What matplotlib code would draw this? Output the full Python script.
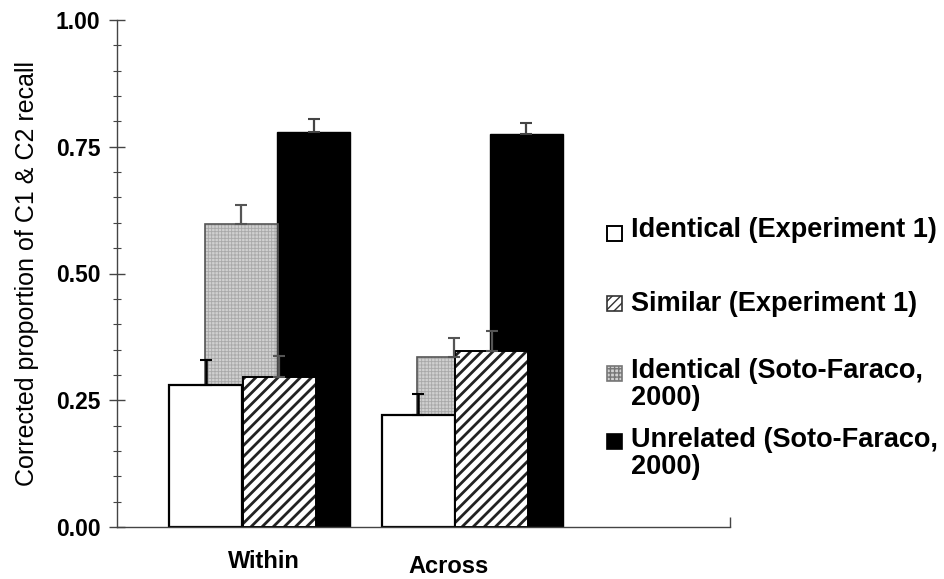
import numpy as np
import matplotlib
matplotlib.use("Agg")
import matplotlib.pyplot as plt
from matplotlib.patches import Rectangle
from matplotlib.ticker import MultipleLocator

# --- data ---
groups = ["Within", "Across"]

identical_exp1 = [0.280, 0.221]
identical_exp1_err = [0.050, 0.041]

similar_exp1 = [0.296, 0.347]
similar_exp1_err = [0.041, 0.040]

identical_sf = [0.598, 0.335]
identical_sf_err = [0.037, 0.038]

unrelated_sf = [0.779, 0.775]
unrelated_sf_err = [0.026, 0.022]

legend_labels = [
    "Identical (Experiment 1)",
    "Similar (Experiment 1)",
    "Identical (Soto-Faraco,\n2000)",
    "Unrelated (Soto-Faraco,\n2000)",
]

plt.rcParams["font.family"] = ["Liberation Sans", "DejaVu Sans"]

W, H = 944, 579


def px(x, y):
    """pixel (from top-left) -> figure fraction"""
    return x / W, 1 - y / H


fig = plt.figure(figsize=(W / 100, H / 100), dpi=100)
ax = fig.add_axes([117 / W, 1 - 527 / H, (730 - 117) / W, 507 / H])

x = np.arange(len(groups))
width = 0.343
gray_face = "#d0d0d0"


def up_err(err):
    err = np.asarray(err)
    return [np.zeros_like(err), err]


# back row: gray and black
with plt.rc_context({"hatch.linewidth": 0.6}):
    ax.bar(x - 0.087, identical_sf, width, color=gray_face, edgecolor="#a8a8a8",
           hatch="+++++", linewidth=0, zorder=1)
ax.bar(x - 0.087, identical_sf, width, fill=False, edgecolor="#555555",
       linewidth=1.2, zorder=1.1)
ax.bar(x + 0.255, unrelated_sf, width, color="black", edgecolor="black",
       linewidth=1, zorder=1)

# front row: white and hatched
ax.bar(x - 0.253, identical_exp1, width, color="white", edgecolor="black",
       linewidth=1.6, zorder=2)
with plt.rc_context({"hatch.linewidth": 2.0}):
    ax.bar(x + 0.093, similar_exp1, width, color="white", edgecolor="#222222",
           hatch="///", linewidth=0, zorder=2)
ax.bar(x + 0.093, similar_exp1, width, fill=False, edgecolor="black",
       linewidth=1.4, zorder=2.1)

# upward error bars
ax.errorbar(x - 0.253, identical_exp1, yerr=up_err(identical_exp1_err), fmt="none",
            ecolor="black", elinewidth=1.8, capsize=4, capthick=1.5, zorder=3)
ax.errorbar(x - 0.087, identical_sf, yerr=up_err(identical_sf_err), fmt="none",
            ecolor="#555555", elinewidth=1.6, capsize=4, capthick=1.5, zorder=3)
ax.errorbar(x + 0.093, similar_exp1, yerr=up_err(similar_exp1_err), fmt="none",
            ecolor="#555555", elinewidth=1.6, capsize=4, capthick=1.5, zorder=3)
ax.errorbar(x + 0.255, unrelated_sf, yerr=up_err(unrelated_sf_err), fmt="none",
            ecolor="#444444", elinewidth=1.6, capsize=4, capthick=1.5, zorder=3)

# axes
ax.set_xlim(-0.671, 2.214)
ax.set_ylim(0, 1)
for s in ["top", "right"]:
    ax.spines[s].set_visible(False)
ax.spines["left"].set_color("#444444")
ax.spines["bottom"].set_color("#444444")
ax.spines["left"].set_linewidth(1.0)
ax.spines["bottom"].set_linewidth(1.0)

ax.yaxis.set_major_locator(MultipleLocator(0.25))
ax.yaxis.set_minor_locator(MultipleLocator(0.05))
ax.set_yticklabels([f"{v:.2f}" for v in ax.get_yticks()], fontweight="bold", fontsize=16.5)
ax.tick_params(axis="y", which="major", direction="inout", length=12, width=1,
               color="#444444", pad=6)
ax.tick_params(axis="y", which="minor", direction="inout", length=6, width=0.8,
               color="#444444")

ax.set_xticks([ax.get_xlim()[1]])
ax.set_xticklabels([""])
ax.tick_params(axis="x", direction="in", length=7, width=1, color="#444444")

label_shift = [0.02, -0.11]
label_y = [-0.045, -0.056]
for xi, name, dx, ly in zip(x, groups, label_shift, label_y):
    ax.text(xi + dx, ly, name, transform=ax.get_xaxis_transform(), ha="center",
            va="top", fontsize=17, fontweight="bold")

ax.set_ylabel("Corrected proportion of C1 & C2 recall", fontsize=18, labelpad=12)

# legend drawn by hand so the squares sit on the first text line
legend_styles = [
    dict(facecolor="white", edgecolor="black", linewidth=1.4),
    dict(facecolor="white", edgecolor="#333333", hatch="////", linewidth=1.2),
    dict(facecolor=gray_face, edgecolor="#777777", hatch="++++", linewidth=1.2),
    dict(facecolor="black", edgecolor="black", linewidth=1.2),
]
box_centers = [233, 303, 373, 441]
text_tops = [217, 291, 358, 427]
box = 15
for lab, style, yc, yt in zip(legend_labels, legend_styles, box_centers, text_tops):
    x0, y0 = px(607, yc + box / 2)
    r = Rectangle((x0, y0), box / W, box / H, transform=fig.transFigure, **style)
    fig.add_artist(r)
    tx, ty = px(631, yt)
    fig.text(tx, ty, lab, ha="left", va="top", fontsize=19.5, fontweight="bold",
             linespacing=1.05)

fig.savefig("out.png", dpi=100)
